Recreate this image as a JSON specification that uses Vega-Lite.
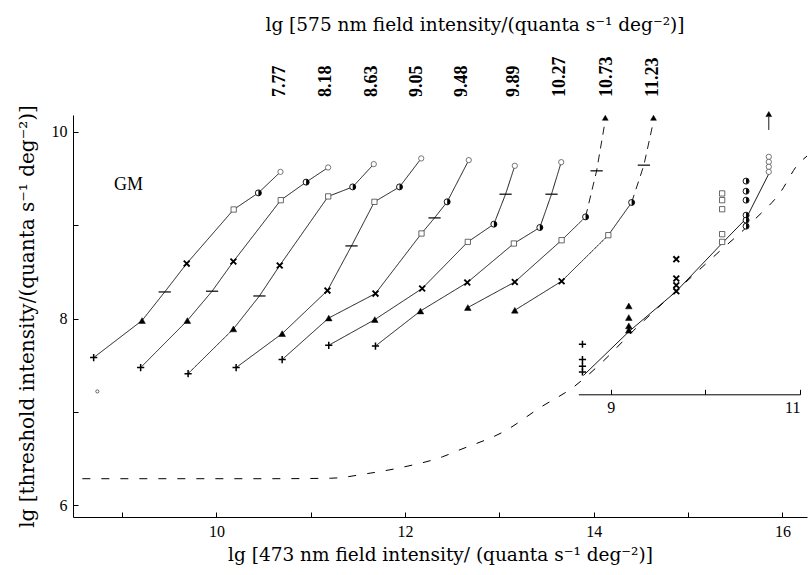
{
  "$schema": "https://vega.github.io/schema/vega-lite/v6.json",
  "width": 734,
  "height": 402,
  "autosize": {"type": "none"},
  "padding": {"left": 73, "top": 115, "right": 1, "bottom": 58},
  "background": "white",
  "title": {
    "text": "lg [575 nm field intensity/(quanta s⁻¹ deg⁻²)]",
    "font": "DejaVu Serif",
    "fontSize": 18.5,
    "fontWeight": "normal",
    "color": "black",
    "anchor": "middle",
    "dx": 35,
    "offset": 22
  },
  "config": {
    "view": {"stroke": null},
    "axis": {
      "grid": false,
      "labelFont": "Liberation Serif",
      "labelFontSize": 16,
      "labelColor": "black",
      "titleFont": "DejaVu Serif",
      "titleFontSize": 18.5,
      "titleFontWeight": "normal",
      "titleColor": "black",
      "domainColor": "black",
      "tickColor": "black",
      "domainWidth": 1,
      "tickWidth": 1,
      "format": "d"
    }
  },
  "datasets": {
    "pts": [
      {"c": "7.77", "s": "plus", "x": 8.699, "y": 7.582},
      {"c": "7.77", "s": "tri", "x": 9.212, "y": 7.979},
      {"c": "7.77", "s": "bar", "x": 9.452, "y": 8.285},
      {"c": "7.77", "s": "cross", "x": 9.685, "y": 8.589},
      {"c": "7.77", "s": "square", "x": 10.183, "y": 9.168},
      {"c": "7.77", "s": "half", "x": 10.445, "y": 9.346},
      {"c": "7.77", "s": "circle", "x": 10.679, "y": 9.571},
      {"c": "8.18", "s": "plus", "x": 9.197, "y": 7.475},
      {"c": "8.18", "s": "tri", "x": 9.692, "y": 7.979},
      {"c": "8.18", "s": "bar", "x": 9.954, "y": 8.293},
      {"c": "8.18", "s": "cross", "x": 10.18, "y": 8.611},
      {"c": "8.18", "s": "square", "x": 10.682, "y": 9.268},
      {"c": "8.18", "s": "half", "x": 10.951, "y": 9.461},
      {"c": "8.18", "s": "circle", "x": 11.184, "y": 9.618},
      {"c": "8.63", "s": "plus", "x": 9.7, "y": 7.41},
      {"c": "8.63", "s": "tri", "x": 10.18, "y": 7.889},
      {"c": "8.63", "s": "bar", "x": 10.456, "y": 8.242},
      {"c": "8.63", "s": "cross", "x": 10.671, "y": 8.568},
      {"c": "8.63", "s": "square", "x": 11.185, "y": 9.308},
      {"c": "8.63", "s": "half", "x": 11.445, "y": 9.41},
      {"c": "8.63", "s": "circle", "x": 11.668, "y": 9.654},
      {"c": "9.05", "s": "plus", "x": 10.209, "y": 7.475},
      {"c": "9.05", "s": "tri", "x": 10.697, "y": 7.839},
      {"c": "9.05", "s": "cross", "x": 11.177, "y": 8.3},
      {"c": "9.05", "s": "bar", "x": 11.432, "y": 8.778},
      {"c": "9.05", "s": "square", "x": 11.675, "y": 9.25},
      {"c": "9.05", "s": "half", "x": 11.941, "y": 9.41},
      {"c": "9.05", "s": "circle", "x": 12.171, "y": 9.715},
      {"c": "9.48", "s": "plus", "x": 10.697, "y": 7.561},
      {"c": "9.48", "s": "tri", "x": 11.191, "y": 8.006},
      {"c": "9.48", "s": "cross", "x": 11.686, "y": 8.268},
      {"c": "9.48", "s": "square", "x": 12.174, "y": 8.911},
      {"c": "9.48", "s": "bar", "x": 12.312, "y": 9.078},
      {"c": "9.48", "s": "half", "x": 12.446, "y": 9.25},
      {"c": "9.48", "s": "circle", "x": 12.675, "y": 9.697},
      {"c": "9.89", "s": "plus", "x": 11.191, "y": 7.714},
      {"c": "9.89", "s": "tri", "x": 11.679, "y": 7.989},
      {"c": "9.89", "s": "cross", "x": 12.181, "y": 8.322},
      {"c": "9.89", "s": "square", "x": 12.665, "y": 8.821},
      {"c": "9.89", "s": "half", "x": 12.941, "y": 9.011},
      {"c": "9.89", "s": "bar", "x": 13.065, "y": 9.332},
      {"c": "9.89", "s": "circle", "x": 13.163, "y": 9.636},
      {"c": "10.27", "s": "plus", "x": 11.686, "y": 7.706},
      {"c": "10.27", "s": "tri", "x": 12.163, "y": 8.081},
      {"c": "10.27", "s": "cross", "x": 12.659, "y": 8.386},
      {"c": "10.27", "s": "square", "x": 13.153, "y": 8.804},
      {"c": "10.27", "s": "half", "x": 13.428, "y": 8.975},
      {"c": "10.27", "s": "bar", "x": 13.552, "y": 9.332},
      {"c": "10.27", "s": "circle", "x": 13.655, "y": 9.675},
      {"c": "10.73", "s": "tri", "x": 12.665, "y": 8.118},
      {"c": "10.73", "s": "cross", "x": 13.163, "y": 8.392},
      {"c": "10.73", "s": "square", "x": 13.659, "y": 8.839},
      {"c": "10.73", "s": "half", "x": 13.913, "y": 9.089},
      {"c": "10.73", "s": "bar", "x": 14.03, "y": 9.582},
      {"c": "10.73", "s": "arrow", "x": 14.122, "y": 10.15},
      {"c": "11.23", "s": "tri", "x": 13.163, "y": 8.089},
      {"c": "11.23", "s": "cross", "x": 13.659, "y": 8.4},
      {"c": "11.23", "s": "square", "x": 14.154, "y": 8.893},
      {"c": "11.23", "s": "half", "x": 14.401, "y": 9.243},
      {"c": "11.23", "s": "bar", "x": 14.531, "y": 9.643},
      {"c": "11.23", "s": "arrow", "x": 14.633, "y": 10.15},
      {"c": "none", "s": "dot", "x": 8.738, "y": 7.22}
    ],
    "lines": [
      {"g": "7.77", "d": "solid", "x": 8.699, "y": 7.582},
      {"g": "7.77", "d": "solid", "x": 9.212, "y": 7.979},
      {"g": "7.77", "d": "solid", "x": 9.452, "y": 8.285},
      {"g": "7.77", "d": "solid", "x": 9.685, "y": 8.589},
      {"g": "7.77", "d": "solid", "x": 10.183, "y": 9.168},
      {"g": "7.77", "d": "solid", "x": 10.445, "y": 9.346},
      {"g": "7.77", "d": "solid", "x": 10.679, "y": 9.571},
      {"g": "8.18", "d": "solid", "x": 9.197, "y": 7.475},
      {"g": "8.18", "d": "solid", "x": 9.692, "y": 7.979},
      {"g": "8.18", "d": "solid", "x": 9.954, "y": 8.293},
      {"g": "8.18", "d": "solid", "x": 10.18, "y": 8.611},
      {"g": "8.18", "d": "solid", "x": 10.682, "y": 9.268},
      {"g": "8.18", "d": "solid", "x": 10.951, "y": 9.461},
      {"g": "8.18", "d": "solid", "x": 11.184, "y": 9.618},
      {"g": "8.63", "d": "solid", "x": 9.7, "y": 7.41},
      {"g": "8.63", "d": "solid", "x": 10.18, "y": 7.889},
      {"g": "8.63", "d": "solid", "x": 10.456, "y": 8.242},
      {"g": "8.63", "d": "solid", "x": 10.671, "y": 8.568},
      {"g": "8.63", "d": "solid", "x": 11.185, "y": 9.308},
      {"g": "8.63", "d": "solid", "x": 11.445, "y": 9.41},
      {"g": "8.63", "d": "solid", "x": 11.668, "y": 9.654},
      {"g": "9.05", "d": "solid", "x": 10.209, "y": 7.475},
      {"g": "9.05", "d": "solid", "x": 10.697, "y": 7.839},
      {"g": "9.05", "d": "solid", "x": 11.177, "y": 8.3},
      {"g": "9.05", "d": "solid", "x": 11.432, "y": 8.778},
      {"g": "9.05", "d": "solid", "x": 11.675, "y": 9.25},
      {"g": "9.05", "d": "solid", "x": 11.941, "y": 9.41},
      {"g": "9.05", "d": "solid", "x": 12.171, "y": 9.715},
      {"g": "9.48", "d": "solid", "x": 10.697, "y": 7.561},
      {"g": "9.48", "d": "solid", "x": 11.191, "y": 8.006},
      {"g": "9.48", "d": "solid", "x": 11.686, "y": 8.268},
      {"g": "9.48", "d": "solid", "x": 12.174, "y": 8.911},
      {"g": "9.48", "d": "solid", "x": 12.312, "y": 9.078},
      {"g": "9.48", "d": "solid", "x": 12.446, "y": 9.25},
      {"g": "9.48", "d": "solid", "x": 12.675, "y": 9.697},
      {"g": "9.89", "d": "solid", "x": 11.191, "y": 7.714},
      {"g": "9.89", "d": "solid", "x": 11.679, "y": 7.989},
      {"g": "9.89", "d": "solid", "x": 12.181, "y": 8.322},
      {"g": "9.89", "d": "solid", "x": 12.665, "y": 8.821},
      {"g": "9.89", "d": "solid", "x": 12.941, "y": 9.011},
      {"g": "9.89", "d": "solid", "x": 13.065, "y": 9.332},
      {"g": "9.89", "d": "solid", "x": 13.163, "y": 9.636},
      {"g": "10.27", "d": "solid", "x": 11.686, "y": 7.706},
      {"g": "10.27", "d": "solid", "x": 12.163, "y": 8.081},
      {"g": "10.27", "d": "solid", "x": 12.659, "y": 8.386},
      {"g": "10.27", "d": "solid", "x": 13.153, "y": 8.804},
      {"g": "10.27", "d": "solid", "x": 13.428, "y": 8.975},
      {"g": "10.27", "d": "solid", "x": 13.552, "y": 9.332},
      {"g": "10.27", "d": "solid", "x": 13.655, "y": 9.675},
      {"g": "10.73", "d": "solid", "x": 12.665, "y": 8.118},
      {"g": "10.73", "d": "solid", "x": 13.163, "y": 8.392},
      {"g": "10.73", "d": "solid", "x": 13.659, "y": 8.839},
      {"g": "10.73", "d": "solid", "x": 13.913, "y": 9.089},
      {"g": "10.73d", "d": "dash", "x": 13.913, "y": 9.089},
      {"g": "10.73d", "d": "dash", "x": 14.03, "y": 9.582},
      {"g": "10.73d", "d": "dash", "x": 14.118, "y": 10.1},
      {"g": "11.23", "d": "solid", "x": 13.163, "y": 8.089},
      {"g": "11.23", "d": "solid", "x": 13.659, "y": 8.4},
      {"g": "11.23", "d": "solid", "x": 14.154, "y": 8.893},
      {"g": "11.23", "d": "solid", "x": 14.401, "y": 9.243},
      {"g": "11.23d", "d": "dash", "x": 14.401, "y": 9.243},
      {"g": "11.23d", "d": "dash", "x": 14.531, "y": 9.643},
      {"g": "11.23d", "d": "dash", "x": 14.63, "y": 10.1}
    ],
    "thr": [
      {"x": 8.579, "y": 6.285},
      {"x": 9.5, "y": 6.285},
      {"x": 10.5, "y": 6.285},
      {"x": 11.209, "y": 6.29},
      {"x": 11.601, "y": 6.34},
      {"x": 11.983, "y": 6.41},
      {"x": 12.397, "y": 6.52},
      {"x": 12.569, "y": 6.59},
      {"x": 13.065, "y": 6.8},
      {"x": 13.436, "y": 7.05},
      {"x": 13.789, "y": 7.27},
      {"x": 14.054, "y": 7.5},
      {"x": 14.425, "y": 7.875},
      {"x": 14.9, "y": 8.32},
      {"x": 15.3, "y": 8.69},
      {"x": 15.698, "y": 9.054},
      {"x": 15.981, "y": 9.357},
      {"x": 16.158, "y": 9.643},
      {"x": 16.26, "y": 9.74}
    ],
    "labels": [
      {"t": "7.77", "x": 10.671, "y": 10.372},
      {"t": "8.18", "x": 11.166, "y": 10.372},
      {"t": "8.63", "x": 11.644, "y": 10.372},
      {"t": "9.05", "x": 12.128, "y": 10.372},
      {"t": "9.48", "x": 12.605, "y": 10.372},
      {"t": "9.89", "x": 13.153, "y": 10.372},
      {"t": "10.27", "x": 13.641, "y": 10.372},
      {"t": "10.73", "x": 14.143, "y": 10.372},
      {"t": "11.23", "x": 14.631, "y": 10.372}
    ],
    "notes": [
      {"t": "GM", "x": 9.067, "y": 9.43}
    ],
    "ipts": [
      {"s": "plus", "ix": 8.7, "y": 7.725},
      {"s": "plus", "ix": 8.7, "y": 7.561},
      {"s": "plus", "ix": 8.7, "y": 7.489},
      {"s": "plus", "ix": 8.7, "y": 7.428},
      {"s": "tri", "ix": 9.19, "y": 8.135},
      {"s": "tri", "ix": 9.19, "y": 8.011},
      {"s": "tri", "ix": 9.19, "y": 7.921},
      {"s": "tri", "ix": 9.19, "y": 7.875},
      {"s": "cross", "ix": 9.692, "y": 8.636},
      {"s": "cross", "ix": 9.692, "y": 8.429},
      {"s": "cross", "ix": 9.692, "y": 8.357},
      {"s": "cross", "ix": 9.692, "y": 8.293},
      {"s": "square", "ix": 10.177, "y": 9.34},
      {"s": "square", "ix": 10.177, "y": 9.268},
      {"s": "square", "ix": 10.177, "y": 9.171},
      {"s": "square", "ix": 10.177, "y": 8.904},
      {"s": "square", "ix": 10.177, "y": 8.821},
      {"s": "half", "ix": 10.43, "y": 9.472},
      {"s": "half", "ix": 10.43, "y": 9.364},
      {"s": "half", "ix": 10.43, "y": 9.268},
      {"s": "half", "ix": 10.43, "y": 9.107},
      {"s": "half", "ix": 10.43, "y": 9.054},
      {"s": "half", "ix": 10.43, "y": 8.989},
      {"s": "circle", "ix": 10.67, "y": 9.732},
      {"s": "circle", "ix": 10.67, "y": 9.678},
      {"s": "circle", "ix": 10.67, "y": 9.625},
      {"s": "circle", "ix": 10.67, "y": 9.571},
      {"s": "arrow", "ix": 10.67, "y": 10.19}
    ],
    "ilines": [
      {"g": "fit", "ix": 8.71, "y": 7.39},
      {"g": "fit", "ix": 9.19, "y": 7.86},
      {"g": "fit", "ix": 9.69, "y": 8.29},
      {"g": "fit", "ix": 10.17, "y": 8.8},
      {"g": "fit", "ix": 10.43, "y": 9.07},
      {"g": "fit", "ix": 10.67, "y": 9.55},
      {"g": "arr", "ix": 10.67, "y": 10.02},
      {"g": "arr", "ix": 10.67, "y": 10.16}
    ]
  },
  "resolve": {"scale": {"x": "independent"}, "axis": {"x": "independent"}},
  "layer": [
    {
      "layer": [
        {
          "data": {"name": "thr"},
          "mark": {"type": "line", "interpolate": "monotone", "color": "black", "strokeWidth": 1, "strokeDash": [8, 11]},
          "encoding": {
            "x": {
              "field": "x", "type": "quantitative",
              "scale": {"domain": [8.48, 16.26], "nice": false, "zero": false},
              "axis": {
                "values": [9, 10, 11, 12, 13, 14, 15, 16],
                "labelExpr": "datum.value % 2 == 0 ? datum.label : ''",
                "tickSize": -5,
                "labelPadding": 11,
                "title": "lg [473 nm field intensity/ (quanta s⁻¹ deg⁻²)]",
                "titlePadding": 6
              }
            },
            "y": {
              "field": "y", "type": "quantitative",
              "scale": {"domain": [5.875, 10.18], "nice": false, "zero": false},
              "axis": {
                "values": [6, 7, 8, 9, 10],
                "labelExpr": "datum.value % 2 == 0 ? datum.label : ''",
                "tickSize": -5,
                "labelPadding": 11,
                "title": "lg [threshold intensity/(quanta s⁻¹ deg⁻²)]",
                "titleFontSize": 20,
                "titlePadding": 14
              }
            }
          }
        },
        {
          "data": {"name": "lines"},
          "mark": {"type": "line", "color": "black", "strokeWidth": 0.9},
          "encoding": {
            "x": {"field": "x", "type": "quantitative"},
            "y": {"field": "y", "type": "quantitative"},
            "detail": {"field": "g"},
            "strokeDash": {
              "field": "d", "type": "nominal",
              "scale": {"domain": ["solid", "dash"], "range": [[1, 0], [8, 6]]},
              "legend": null
            }
          }
        },
        {
          "data": {"name": "pts"},
          "mark": {"type": "point", "filled": false, "opacity": 1},
          "encoding": {
            "x": {"field": "x", "type": "quantitative"},
            "y": {"field": "y", "type": "quantitative"},
            "shape": {
              "field": "s", "type": "nominal", "legend": null,
              "scale": {
                "domain": ["plus", "tri", "cross", "square", "half", "circle", "bar", "arrow", "dot"],
                "range": ["M-1,0L1,0M0,-1L0,1", "triangle-up", "M-1,-1L1,1M-1,1L1,-1", "square", "circle", "circle", "M-1,0L1,0", "triangle-up", "circle"]
              }
            },
            "size": {
              "field": "s", "type": "nominal", "legend": null,
              "scale": {
                "type": "ordinal",
                "domain": ["plus", "tri", "cross", "square", "half", "circle", "bar", "arrow", "dot"],
                "range": [52, 44, 34, 28, 36, 28, 150, 34, 10]
              }
            },
            "fill": {
              "field": "s", "type": "nominal", "legend": null,
              "scale": {
                "domain": ["plus", "tri", "cross", "square", "half", "circle", "bar", "arrow", "dot"],
                "range": ["transparent", "black", "transparent", "white", "white", "white", "transparent", "black", "white"]
              }
            },
            "stroke": {
              "field": "s", "type": "nominal", "legend": null,
              "scale": {
                "domain": ["plus", "tri", "cross", "square", "half", "circle", "bar", "arrow", "dot"],
                "range": ["black", "black", "black", "#444444", "black", "#555555", "black", "black", "#444444"]
              }
            },
            "strokeWidth": {
              "field": "s", "type": "nominal", "legend": null,
              "scale": {
                "type": "ordinal",
                "domain": ["plus", "tri", "cross", "square", "half", "circle", "bar", "arrow", "dot"],
                "range": [1.5, 0.5, 1.9, 0.8, 0.9, 0.8, 1.2, 0.5, 0.8]
              }
            }
          }
        },
        {
          "data": {"name": "pts"},
          "transform": [{"filter": "datum.s == 'half'"}],
          "mark": {"type": "point", "filled": true, "shape": "M0,-1A1,1,0,0,1,0,1Z", "size": 36, "color": "black", "opacity": 1},
          "encoding": {
            "x": {"field": "x", "type": "quantitative"},
            "y": {"field": "y", "type": "quantitative"}
          }
        },
        {
          "data": {"name": "labels"},
          "mark": {"type": "text", "angle": 270, "align": "left", "baseline": "middle", "font": "Liberation Serif", "fontSize": 18, "fontWeight": "bold", "color": "black"},
          "encoding": {
            "x": {"field": "x", "type": "quantitative"},
            "y": {"field": "y", "type": "quantitative"},
            "text": {"field": "t"}
          }
        },
        {
          "data": {"name": "notes"},
          "mark": {"type": "text", "align": "center", "baseline": "middle", "font": "Liberation Serif", "fontSize": 18, "color": "black"},
          "encoding": {
            "x": {"field": "x", "type": "quantitative"},
            "y": {"field": "y", "type": "quantitative"},
            "text": {"field": "t"}
          }
        }
      ]
    },
    {
      "layer": [
        {
          "data": {"name": "ilines"},
          "mark": {"type": "line", "color": "black", "strokeWidth": 0.9},
          "encoding": {
            "x": {
              "field": "ix", "type": "quantitative",
              "scale": {"domain": [8.656, 11.0], "range": [505.3, 727], "nice": false, "zero": false},
              "axis": {
                "orient": "bottom",
                "offset": -122.7,
                "values": [9, 10, 11],
                "labelExpr": "datum.value == 10 ? '' : datum.label",
                "tickSize": -5,
                "labelPadding": 10,
                "title": null
              }
            },
            "y": {"field": "y", "type": "quantitative"},
            "detail": {"field": "g"}
          }
        },
        {
          "data": {"name": "ipts"},
          "mark": {"type": "point", "filled": false, "opacity": 1},
          "encoding": {
            "x": {"field": "ix", "type": "quantitative"},
            "y": {"field": "y", "type": "quantitative"},
            "shape": {
              "field": "s", "type": "nominal", "legend": null,
              "scale": {
                "domain": ["plus", "tri", "cross", "square", "half", "circle", "arrow"],
                "range": ["M-1,0L1,0M0,-1L0,1", "triangle-up", "M-1,-1L1,1M-1,1L1,-1", "square", "circle", "circle", "triangle-up"]
              }
            },
            "size": {
              "field": "s", "type": "nominal", "legend": null,
              "scale": {
                "type": "ordinal",
                "domain": ["plus", "tri", "cross", "square", "half", "circle", "arrow"],
                "range": [44, 38, 28, 24, 30, 26, 34]
              }
            },
            "fill": {
              "field": "s", "type": "nominal", "legend": null,
              "scale": {
                "domain": ["plus", "tri", "cross", "square", "half", "circle", "arrow"],
                "range": ["transparent", "black", "transparent", "white", "white", "white", "black"]
              }
            },
            "stroke": {
              "field": "s", "type": "nominal", "legend": null,
              "scale": {
                "domain": ["plus", "tri", "cross", "square", "half", "circle", "arrow"],
                "range": ["black", "black", "black", "#444444", "black", "#444444", "black"]
              }
            },
            "strokeWidth": {
              "field": "s", "type": "nominal", "legend": null,
              "scale": {
                "type": "ordinal",
                "domain": ["plus", "tri", "cross", "square", "half", "circle", "arrow"],
                "range": [1.5, 0.5, 1.8, 0.8, 0.9, 0.8, 0.5]
              }
            }
          }
        },
        {
          "data": {"name": "ipts"},
          "transform": [{"filter": "datum.s == 'half'"}],
          "mark": {"type": "point", "filled": true, "shape": "M0,-1A1,1,0,0,1,0,1Z", "size": 30, "color": "black", "opacity": 1},
          "encoding": {
            "x": {"field": "ix", "type": "quantitative"},
            "y": {"field": "y", "type": "quantitative"}
          }
        }
      ]
    }
  ]
}
